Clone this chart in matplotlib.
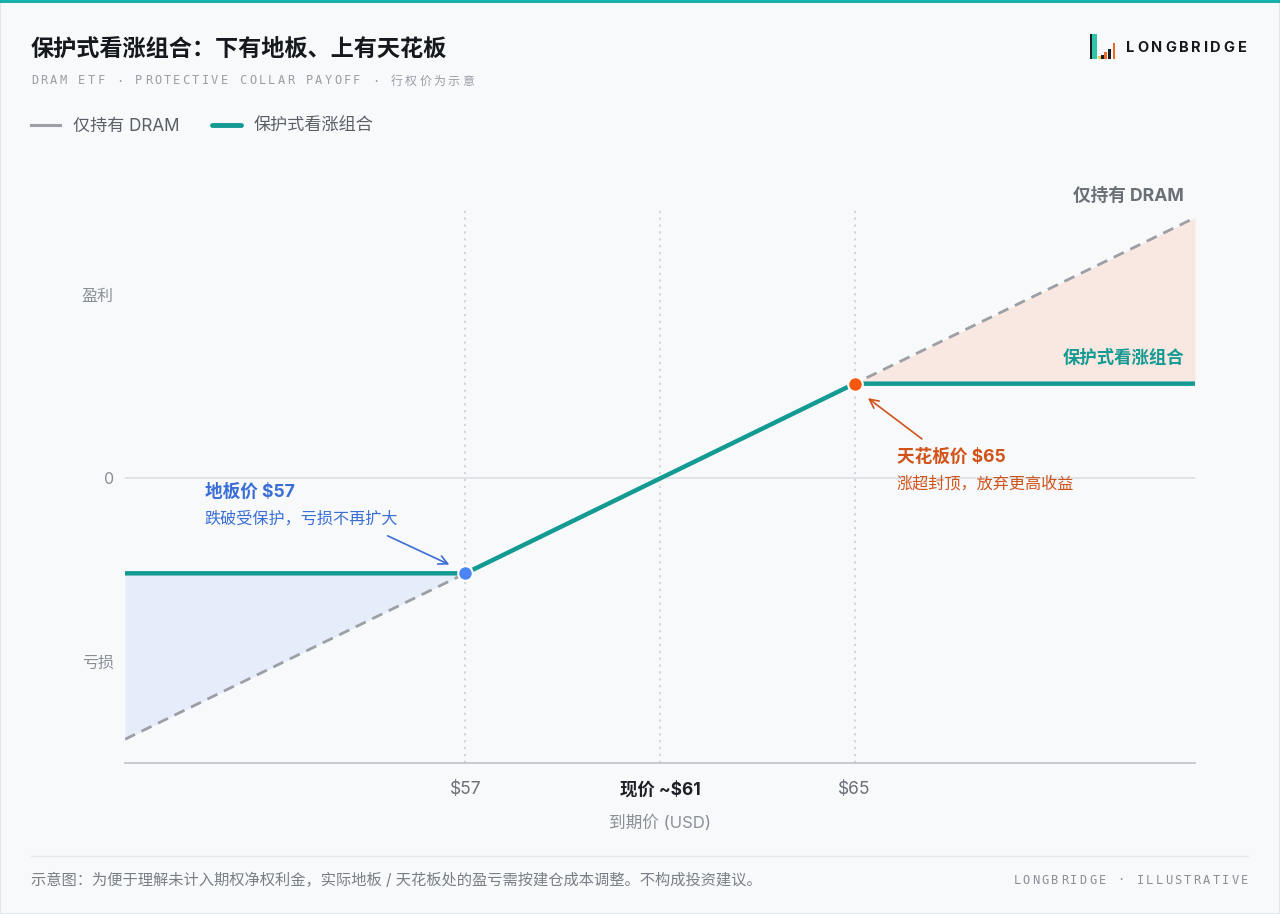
import numpy as np
import matplotlib
matplotlib.use('Agg')
import matplotlib.pyplot as plt
from matplotlib import font_manager
from matplotlib.ft2font import FT2Font
from matplotlib.patches import Rectangle
from matplotlib.lines import Line2D

plt.rcParams['font.family'] = ['Inter', 'Noto Sans CJK SC', 'DejaVu Sans']
MONO = ['DejaVu Sans Mono', 'Noto Sans CJK SC']

# --- data ---
price = [50, 57, 61, 65, 72]          # expiry price, USD
stock_pnl = [-11, -4, 0, 4, 11]       # hold DRAM only
collar_pnl = [-4, -4, 0, 4, 4]        # protective collar
floor_px, spot_px, cap_px = 57, 61, 65
xtick_vals = [57, 61, 65]
xtick_labels = [r'\$57', r'现价 ~\$61', r'\$65']
ytick_vals = [7.75, 0, -7.75]
ytick_labels = ['盈利', '0', '亏损']

C_TEAL = '#139a92'
C_GREY = '#9c9fa6'
C_BLUE = '#4a84f5'
C_BLUE_TXT = '#3a6ed6'
C_ORANGE = '#f4580f'
C_ORANGE_TXT = '#d0531a'
C_BG = '#f7f9fb'

W, H = 1280, 914


def px(x, y):
    return x / W, 1 - y / H


def spaced_mono(fig, x, y, s, size_px, gap, color, ha='left'):
    """Monospace text with letter spacing, placed char by char (pixel coords)."""
    adv = [(size_px if ord(c) > 0x2E80 else 0.602 * size_px) + gap for c in s]
    total = sum(adv) - gap
    cx = x - total if ha == 'right' else x
    for c, a in zip(s, adv):
        if c != ' ':
            fig.text(*px(cx, y), c, fontsize=size_px * 0.72, color=color,
                     family=MONO, ha='left', va='center')
        cx += a


def spaced_text(fig, x, y, s, size_pt, gap, color, weight='bold'):
    """Proportional text with tracking, using the glyph advances of the font."""
    fp = font_manager.FontProperties(family='Inter', weight=weight)
    font = FT2Font(font_manager.findfont(fp), hinting_factor=1)
    font.set_size(size_pt, 100)
    cx = x
    for c in s:
        fig.text(*px(cx, y), c, fontproperties=fp, fontsize=size_pt, color=color,
                 ha='left', va='center')
        g = font.load_char(ord(c))
        cx += g.linearHoriAdvance / 65536 + gap


fig = plt.figure(figsize=(12.8, 9.14), dpi=100, facecolor=C_BG)

# card frame + top accent
fig.patches.append(Rectangle((0, 0), 1, 1, transform=fig.transFigure,
                             facecolor=C_BG, edgecolor='#e2e5e9', lw=1.5, zorder=-10))
fig.patches.append(Rectangle(px(0, 3), 1, 3 / H, transform=fig.transFigure,
                             facecolor='#17b1a7', edgecolor='none', zorder=5))

ax = fig.add_axes([125 / W, 151 / H, 1070 / W, 569 / H])
ax.set_facecolor(C_BG)
ax.set_xlim(price[0], price[-1])
ax.set_ylim(-12, 12)

# fills
ax.fill_between(price[:2], stock_pnl[:2], collar_pnl[:2], color='#e6edfa', lw=0, zorder=1)
ax.fill_between(price[3:], stock_pnl[3:], collar_pnl[3:], color='#f9e8e1', lw=0, zorder=1)

# guides
ax.axhline(0, color='#dcdfe3', lw=1.2, zorder=2)
ax.vlines(xtick_vals, -12, 11.4, colors='#c9cdd3', linestyles=(0, (1.5, 3)), lw=1.1, zorder=2)

# lines
ax.plot(price, stock_pnl, color=C_GREY, lw=2, linestyle=(0, (4, 2.6)), zorder=3)
ax.plot(price, collar_pnl, color=C_TEAL, lw=3.2, solid_capstyle='round', zorder=4)

ax.plot([floor_px], [collar_pnl[1]], 'o', ms=10.5, color=C_BLUE, mec='white', mew=1.5, zorder=6)
ax.plot([cap_px], [collar_pnl[3]], 'o', ms=10.5, color=C_ORANGE, mec='white', mew=1.5, zorder=6)

# annotations
ax.annotate('', xy=(56.72, -3.68), xytext=(55.35, -2.37),
            arrowprops=dict(arrowstyle='->', color=C_BLUE_TXT, lw=1.2,
                            mutation_scale=16), zorder=5)
ax.text(51.64, -0.58, r'地板价 \$57', color=C_BLUE_TXT, fontsize=12.7,
        fontweight='bold', ha='left', va='center')
ax.text(51.64, -1.72, '跌破受保护，亏损不再扩大', color=C_BLUE_TXT, fontsize=11.6,
        ha='left', va='center')

ax.annotate('', xy=(65.23, 3.46), xytext=(66.43, 1.6),
            arrowprops=dict(arrowstyle='->', color=C_ORANGE_TXT, lw=1.2,
                            mutation_scale=16), zorder=5)
ax.text(65.87, 0.9, r'天花板价 \$65', color=C_ORANGE_TXT, fontsize=12.7,
        fontweight='bold', ha='left', va='center')
ax.text(65.87, -0.2, '涨超封顶，放弃更高收益', color=C_ORANGE_TXT, fontsize=11.6,
        ha='left', va='center')

ax.text(71.77, 11.91, '仅持有 DRAM', color='#6b7076', fontsize=12.7,
        fontweight='bold', ha='right', va='center')
ax.text(71.77, 5.07, '保护式看涨组合', color=C_TEAL, fontsize=12.5,
        fontweight='bold', ha='right', va='center')

# axes styling
for s in ['top', 'right', 'left']:
    ax.spines[s].set_visible(False)
ax.spines['bottom'].set_color('#c3c7cd')
ax.spines['bottom'].set_linewidth(1.3)
ax.set_xticks(xtick_vals)
ax.set_xticklabels(xtick_labels, fontsize=12.5, color='#6b7076')
ax.get_xticklabels()[1].set_fontweight('bold')
ax.get_xticklabels()[1].set_color('#1d2025')
ax.set_yticks(ytick_vals)
ax.set_yticklabels(ytick_labels, fontsize=11.5, color='#8a8f96')
ax.tick_params(axis='x', length=0, pad=13)
ax.tick_params(axis='y', length=0, pad=8)
ax.set_xlabel('到期价 (USD)', fontsize=12, color='#8a8f96', labelpad=12)

# header
fig.text(*px(31, 50), '保护式看涨组合：下有地板、上有天花板', fontsize=16.7,
         fontweight='bold', color='#15181c', ha='left', va='center')
spaced_mono(fig, 31, 81, 'DRAM ETF · PROTECTIVE COLLAR PAYOFF · 行权价为示意',
            12, 2.25, '#9a9ea5')

# legend
fig.add_artist(Line2D([31 / W, 60 / W], [1 - 125 / H] * 2, color=C_GREY, lw=2.2,
                      transform=fig.transFigure))
fig.text(*px(73, 126), '仅持有 DRAM', fontsize=12.3, color='#5a5f66', ha='left', va='center')
fig.add_artist(Line2D([212 / W, 241 / W], [1 - 125 / H] * 2, color=C_TEAL, lw=3.5,
                      solid_capstyle='round', transform=fig.transFigure))
fig.text(*px(254, 126), '保护式看涨组合', fontsize=12.3, color='#5a5f66', ha='left', va='center')

# logo
logo_bars = [  # x, width, height, colour (pixel units, baseline y=59)
    (1090, 1.5, 25, '#1a1d21'),
    (1091.5, 5, 25, '#2ec4a9'),
    (1098, 2.5, 3, '#f2c94c'),
    (1101, 2.5, 4, '#1a1d21'),
    (1104, 3, 7, '#ee6a2c'),
    (1108, 3, 10, '#1a1d21'),
    (1113, 2, 16, '#ee6a2c'),
]
for bx, bw, bh, bc in logo_bars:
    fig.patches.append(Rectangle(px(bx, 59), bw / W, bh / H, transform=fig.transFigure,
                                 facecolor=bc, edgecolor='none'))
spaced_text(fig, 1126, 48, 'LONGBRIDGE', 10.5, 2.8, '#15181c')

# footer
fig.add_artist(Line2D([31 / W, 1248 / W], [1 - 856 / H] * 2, color='#e6e8eb', lw=1,
                      transform=fig.transFigure))
fig.text(*px(31, 880), '示意图：为便于理解未计入期权净权利金，实际地板 / 天花板处的盈亏需按建仓成本调整。不构成投资建议。',
         fontsize=11, color='#7a7f86', ha='left', va='center')
spaced_mono(fig, 1248, 880, 'LONGBRIDGE · ILLUSTRATIVE', 12, 2.25, '#8a8f96', ha='right')

fig.savefig('out.png', dpi=100, facecolor=C_BG)
